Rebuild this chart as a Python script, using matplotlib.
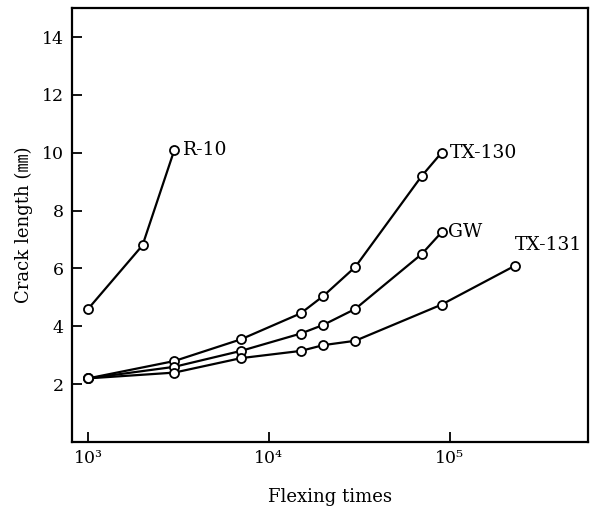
import matplotlib
matplotlib.use("Agg")
import matplotlib.pyplot as plt

# Data
r10_x = [1000, 2000, 3000]
r10_y = [4.6, 6.8, 10.1]

tx130_x = [1000, 3000, 7000, 15000, 20000, 30000, 70000, 90000]
tx130_y = [2.2, 2.8, 3.55, 4.45, 5.05, 6.05, 9.2, 10.0]

gw_x = [1000, 3000, 7000, 15000, 20000, 30000, 70000, 90000]
gw_y = [2.2, 2.6, 3.15, 3.75, 4.05, 4.6, 6.5, 7.25]

tx131_x = [1000, 3000, 7000, 15000, 20000, 30000, 90000, 230000]
tx131_y = [2.2, 2.4, 2.9, 3.15, 3.35, 3.5, 4.75, 6.1]

series_names = ["R-10", "TX-130", "GW", "TX-131"]
xticks = [1e3, 1e4, 1e5]
xtick_labels = ["10³", "10⁴", "10⁵"]
yticks = [2, 4, 6, 8, 10, 12, 14]

serif = ["DejaVu Serif", "Noto Sans CJK JP"]
plt.rcParams["font.family"] = serif

fig = plt.figure(figsize=(5.95, 5.11), dpi=100)
ax = fig.add_axes([0.121, 0.135, 0.867, 0.849])

style = dict(color="black", lw=1.6, marker="o", ms=6.5, mfc="white",
             mec="black", mew=1.3)
for xs, ys in [(r10_x, r10_y), (tx130_x, tx130_y), (gw_x, gw_y), (tx131_x, tx131_y)]:
    ax.plot(xs, ys, **style)

ax.set_xscale("log")
ax.set_xlim(815, 5.8e5)
ax.set_ylim(0, 15)
ax.set_xticks(xticks)
ax.set_xticklabels(xtick_labels)
ax.minorticks_off()
ax.set_yticks(yticks)
ax.tick_params(direction="in", length=7, width=1.3, labelsize=12.5, pad=6)
for s in ax.spines.values():
    s.set_linewidth(1.6)

fs = 13.5
ax.annotate(series_names[0], (r10_x[-1], r10_y[-1]), xytext=(6, 0),
            textcoords="offset points", va="center", ha="left", fontsize=fs)
ax.annotate(series_names[1], (tx130_x[-1], tx130_y[-1]), xytext=(6, 0),
            textcoords="offset points", va="center", ha="left", fontsize=fs)
ax.annotate(series_names[2], (gw_x[-1], gw_y[-1]), xytext=(5, 0),
            textcoords="offset points", va="center", ha="left", fontsize=fs)
ax.annotate(series_names[3], (tx131_x[-1], tx131_y[-1]), xytext=(0, 8),
            textcoords="offset points", va="bottom", ha="left", fontsize=fs)

ax.set_xlabel("Flexing times", fontsize=13, labelpad=15)
ax.set_ylabel("Crack length (㎜)", fontsize=13, labelpad=6)

fig.savefig("out.png", dpi=100)
